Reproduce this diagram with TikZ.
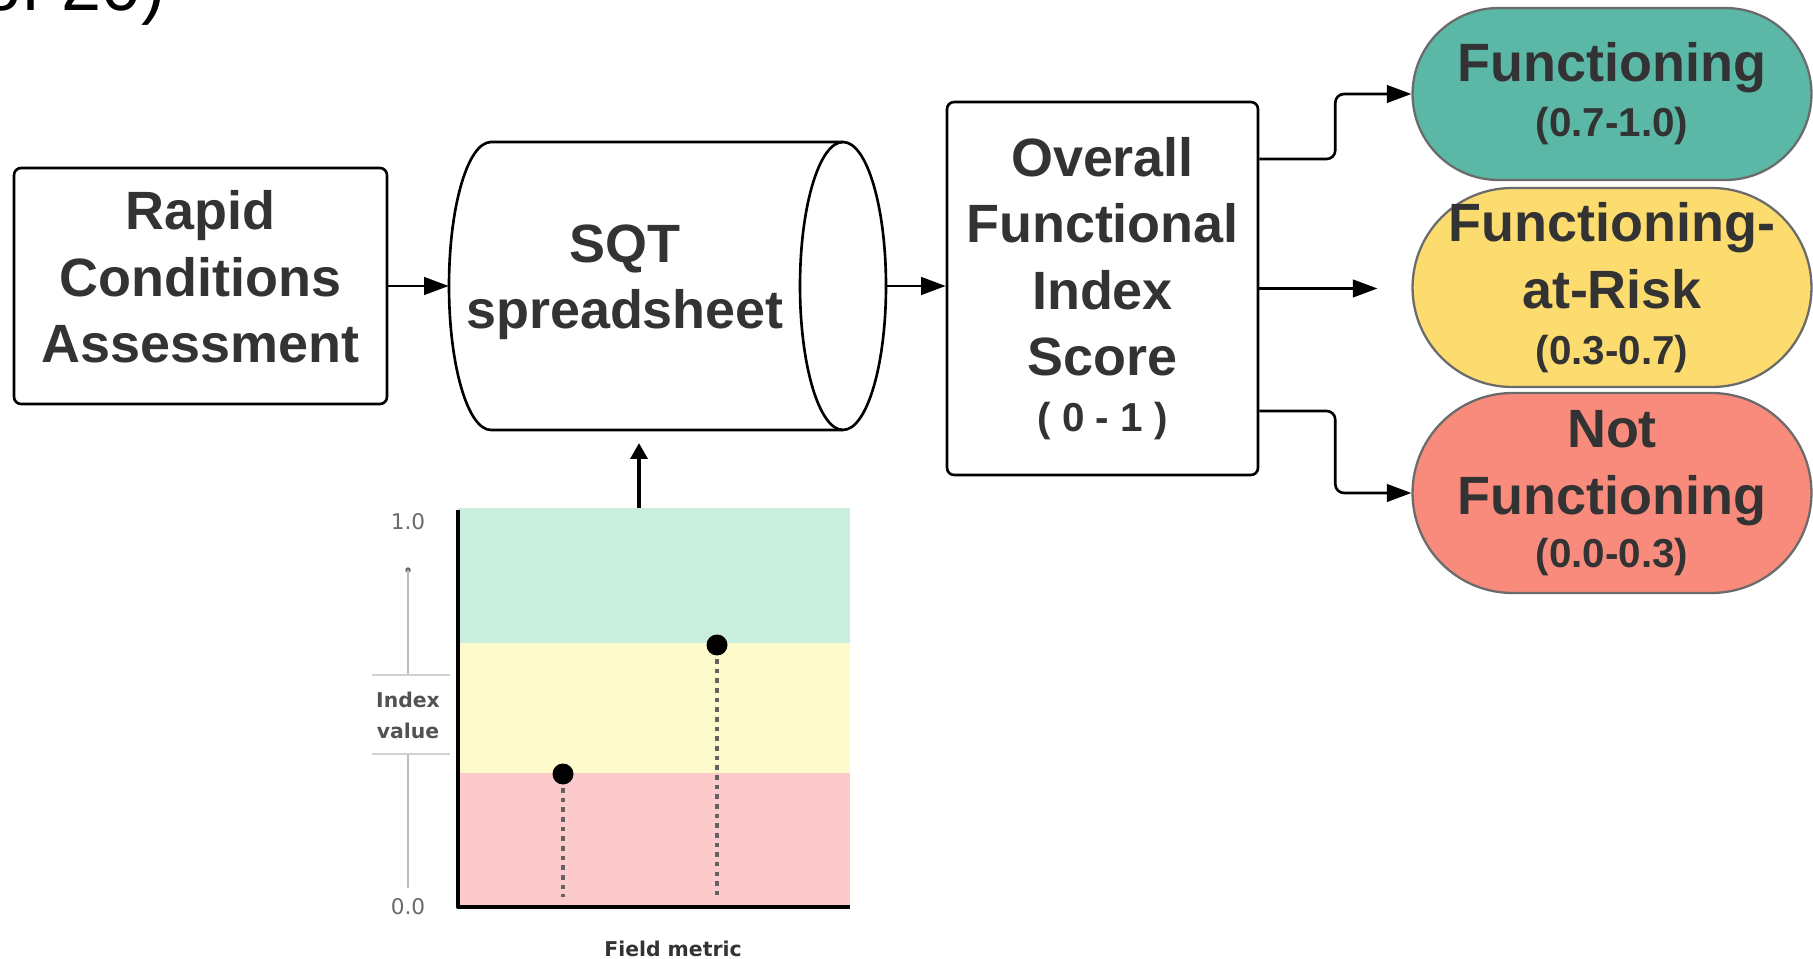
\documentclass[tikz,border=0pt]{standalone}
\usepackage{fontspec}
\setmainfont{Liberation Sans}
\newfontfamily\chartfont{DejaVu Sans}
\usetikzlibrary{arrows.meta}

\definecolor{ink}{HTML}{333333}
\definecolor{okfill}{HTML}{5BB8A6}
\definecolor{riskfill}{HTML}{FDDC6F}
\definecolor{badfill}{HTML}{F98B7D}
\definecolor{ovalline}{HTML}{6B6B6B}
\definecolor{bandgreen}{HTML}{C9EEDD}
\definecolor{bandyellow}{HTML}{FDFBCC}
\definecolor{bandred}{HTML}{FCCACA}
\definecolor{scalegray}{HTML}{6A6A6A}
\definecolor{rulegray}{HTML}{BDBDBD}
\definecolor{dashgray}{HTML}{626262}

\newcommand\bigfont{\fontsize{30.7pt}{37.8pt}\selectfont\bfseries}
\newcommand\rangefont{\fontsize{23pt}{28pt}\selectfont\bfseries}
\newcommand\axisfont{\fontsize{11.6pt}{17.6pt}\chartfont\bfseries}
\newcommand\tickfont{\fontsize{12.3pt}{15pt}\chartfont}

\begin{document}
\begin{tikzpicture}[x=0.02cm,y=-0.02cm,
  boxshape/.style={draw=black, line width=1.5pt, rounded corners=4pt,
    fill=white, inner sep=0pt},
  inktext/.style={align=center, text=ink, font=\bigfont, inner sep=0pt},
  oval/.style={draw=ovalline, line width=1.3pt, inner sep=0pt, align=center,
    text=ink, font=\bigfont, minimum width=7.98cm},
  arr/.style={line width=1.5pt, rounded corners=5pt,
    -{Triangle[length=14pt,width=10pt]}},
  uparr/.style={line width=2.2pt, -{Triangle[length=9pt,width=9.5pt]}},
  dashline/.style={dashgray, line width=2pt, dash pattern=on 2.6pt off 2.9pt},
]
\useasboundingbox (0,0) rectangle (1813,959);
\clip (0,0) rectangle (1813,959);

% heading line running off the top edge
\node[anchor=base west, inner sep=0pt, font=\fontsize{41pt}{48pt}\selectfont]
  (heading) at (-19,11) {of 20)};

% input box
\node[boxshape, minimum width=7.46cm, minimum height=4.72cm] (rca) at (200.5,286) {};
\node[inktext] (rcatext) at ([yshift=0.18cm]rca.center)
  {Rapid\\Conditions\\Assessment};

% spreadsheet drum
\node[inner sep=0pt, minimum width=8.74cm, minimum height=5.76cm] (cyl) at (667.5,286) {};
\draw[line width=1.5pt, fill=white]
  (491,142) -- (843,142)
  arc[start angle=90, end angle=-90, x radius=0.86cm, y radius=2.88cm]
  -- (491,430)
  arc[start angle=270, end angle=90, x radius=0.84cm, y radius=2.88cm]
  -- cycle;
\draw[line width=1.5pt] (843,142)
  arc[start angle=90, end angle=270, x radius=0.86cm, y radius=2.88cm];
\node[inktext] (cyltext) at (625,282) {SQT\\spreadsheet};

% index score box
\node[boxshape, inktext, minimum width=6.22cm, minimum height=7.46cm] (ofi) at (1102.5,288.5)
  {Overall\\Functional\\Index\\Score\\[-5.9pt]{\rangefont ( 0 - 1 )}};

% outcome classes
\node[oval, fill=okfill, minimum height=3.44cm, rounded corners=1.72cm] (fun) at (1612,94)
  {Functioning\\[-6.5pt]{\rangefont (0.7-1.0)}};
\node[oval, fill=riskfill, minimum height=3.98cm, rounded corners=1.99cm] (far) at (1612,287.5)
  {Functioning-\\at-Risk\\[-5.9pt]{\rangefont (0.3-0.7)}};
\node[oval, fill=badfill, minimum height=4.0cm, rounded corners=2.0cm] (nf) at (1612,493)
  {Not\\Functioning\\[-7.6pt]{\rangefont (0.0-0.3)}};

% main flow
\draw[arr] (rca.east) -- (cyl.west);
\draw[arr] (cyl.east) -- (cyl.east -| ofi.west);
\draw[arr] ([yshift=2.59cm]ofi.east) -- ++(76,0) |- (fun.west);
\draw[arr] (ofi.east) -- ([xshift=-0.68cm]far.west |- ofi.east);
\draw[arr] ([yshift=-2.45cm]ofi.east) -- ++(76,0) |- (nf.west);

% index chart
\node[inner sep=0pt, minimum width=7.84cm, minimum height=7.98cm] (plot) at (654,707.5) {};
\fill[bandgreen]  (458,508) rectangle (850,643);
\fill[bandyellow] (458,643) rectangle (850,773);
\fill[bandred]    (458,773) rectangle (850,907);
\draw[line width=2.3pt, line join=round] (458,510) -- (458,907) -- (850,907);
\draw[dashline] (563,788) -- (563,897);
\draw[dashline] (717,659) -- (717,897);
\fill (563,774) circle[radius=0.21cm];
\fill (717,645) circle[radius=0.21cm];

% value scale beside the chart
\node[text=scalegray, font=\tickfont, inner sep=0pt] (top) at (408,522) {1.0};
\node[text=scalegray, font=\tickfont, inner sep=0pt] (bottom) at (408,907) {0.0};
\fill[scalegray] (408,570) circle[radius=0.055cm];
\draw[rulegray, line width=0.8pt] (408,570) -- (408,675);
\draw[rulegray, line width=0.8pt] (408,754) -- (408,888);
\draw[rulegray!70, line width=0.8pt] (372,675) -- (450,675);
\draw[rulegray!70, line width=0.8pt] (372,754) -- (450,754);
\node[text=ink!85, font=\axisfont, align=center, inner sep=0pt] (ylabel) at (408,715) {Index\\value};
\node[text=ink, font=\axisfont, anchor=base, inner sep=0pt] (xlabel) at (673,956) {Field metric};

\coordinate (uphead) at (639,443);
\draw[uparr] (plot.north -| uphead) -- (uphead);
\end{tikzpicture}
\end{document}
